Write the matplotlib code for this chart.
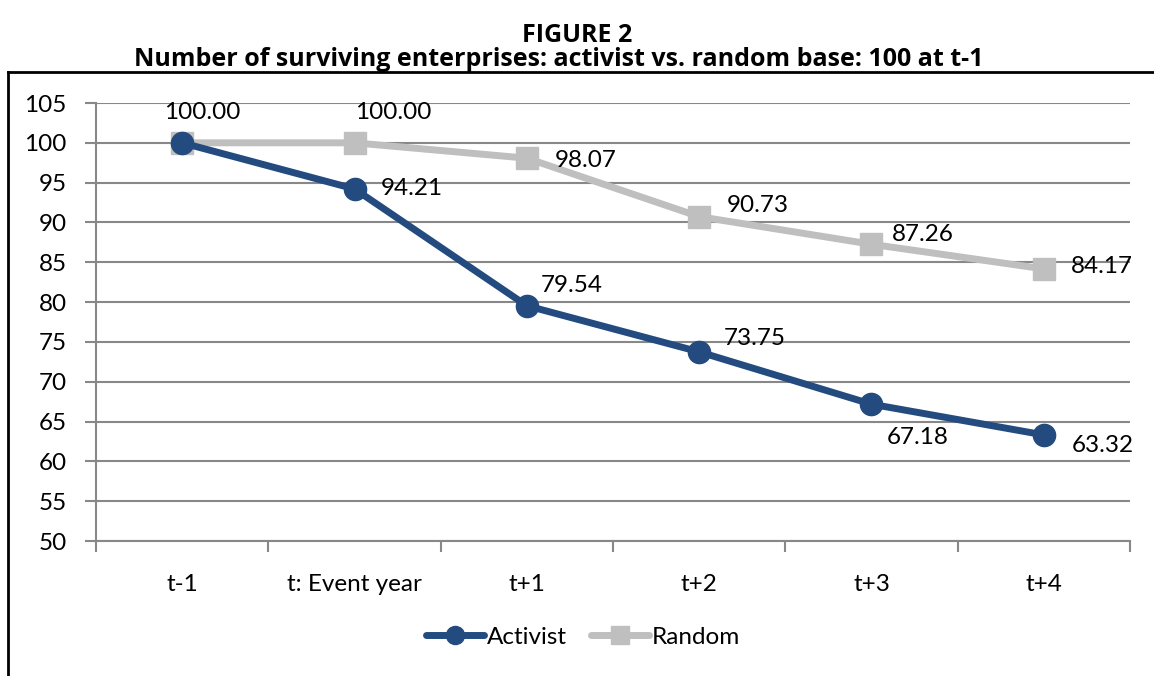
import matplotlib.pyplot as plt
from matplotlib.lines import Line2D

plt.rcParams['font.family'] = ['Lato', 'DejaVu Sans']

categories = ["t-1", "t: Event year", "t+1", "t+2", "t+3", "t+4"]
activist = [100.00, 94.21, 79.54, 73.75, 67.18, 63.32]
random_base = [100.00, 100.00, 98.07, 90.73, 87.26, 84.17]

# label offsets in pixels (dx, dy) relative to the point
activist_offsets = [None, (57, 0), (45, 20), (56, 13), (46, -33), (59, -11)]
random_offsets = [(20, 30), (39, 30), (59, -2), (59, 11), (51, 10), (58, 2)]

BLUE = "#234B7F"
GREY = "#BFBFBF"
AXIS = "#888888"
FS = 17.5

fig = plt.figure(figsize=(11.54, 6.76), dpi=100)
ax = fig.add_axes([96 / 1154, 1 - 541 / 676, (1130 - 96) / 1154, (541 - 103) / 676])

x = list(range(len(categories)))
ax.plot(x, activist, color=BLUE, lw=5, marker="o", ms=16, label="Activist",
        solid_capstyle="round", zorder=4)
ax.plot(x, random_base, color=GREY, lw=5, marker="s", ms=15.5, label="Random",
        solid_capstyle="round", zorder=3)

for xi, v, off in zip(x, activist, activist_offsets):
    if off is None:
        continue
    ax.annotate(f"{v:.2f}", (xi, v), xytext=off, textcoords="offset pixels",
                ha="center", va="center", fontsize=FS, zorder=6)
for xi, v, off in zip(x, random_base, random_offsets):
    ax.annotate(f"{v:.2f}", (xi, v), xytext=off, textcoords="offset pixels",
                ha="center", va="center", fontsize=FS, zorder=6)

ax.set_xlim(-0.5, len(categories) - 0.5)
ax.set_ylim(50, 105)
ax.set_yticks(range(50, 106, 5))
ax.set_xticks(x)
ax.set_xticklabels(categories)
ax.set_xticks([i - 0.5 for i in range(len(categories) + 1)], minor=True)
ax.tick_params(axis="x", which="major", length=0, pad=24, labelsize=FS)
ax.tick_params(axis="x", which="minor", length=8, width=1.5, color=AXIS)
ax.tick_params(axis="y", length=8, width=1.5, color=AXIS, labelsize=FS, pad=13)
ax.yaxis.grid(True, color=AXIS, lw=1.5)
ax.set_axisbelow(True)
for s in ["top", "right"]:
    ax.spines[s].set_visible(False)
for s in ["left", "bottom"]:
    ax.spines[s].set_color(AXIS)
    ax.spines[s].set_linewidth(1.5)

handles = [
    Line2D([], [], color=BLUE, lw=5, marker="o", ms=13, solid_capstyle="round"),
    Line2D([], [], color=GREY, lw=5, marker="s", ms=13, solid_capstyle="round"),
]
fig.legend(handles, ["Activist", "Random"], loc="center", bbox_to_anchor=(583 / 1154, 1 - 637 / 676),
           ncol=2, frameon=False, fontsize=FS, handlelength=2.4, handletextpad=0.1,
           columnspacing=1.0)

fig.text(577 / 1154, 1 - 35 / 676, "FIGURE 2", ha="center", va="center",
         fontsize=18, fontweight="bold", family=["Open Sans", "DejaVu Sans"])
fig.text(559 / 1154, 1 - 59 / 676,
         "Number of surviving enterprises: activist vs. random base: 100 at t-1",
         ha="center", va="center", fontsize=18, fontweight="bold",
         family=["Open Sans", "DejaVu Sans"])

# chart frame (top and left edges visible)
fig.add_artist(Line2D([8 / 1154, 8 / 1154], [0, 1 - 72 / 676], color="black", lw=2,
                      transform=fig.transFigure))
fig.add_artist(Line2D([8 / 1154, 1], [1 - 72 / 676, 1 - 72 / 676], color="black", lw=2,
                      transform=fig.transFigure))

fig.savefig("out.png", dpi=100)
